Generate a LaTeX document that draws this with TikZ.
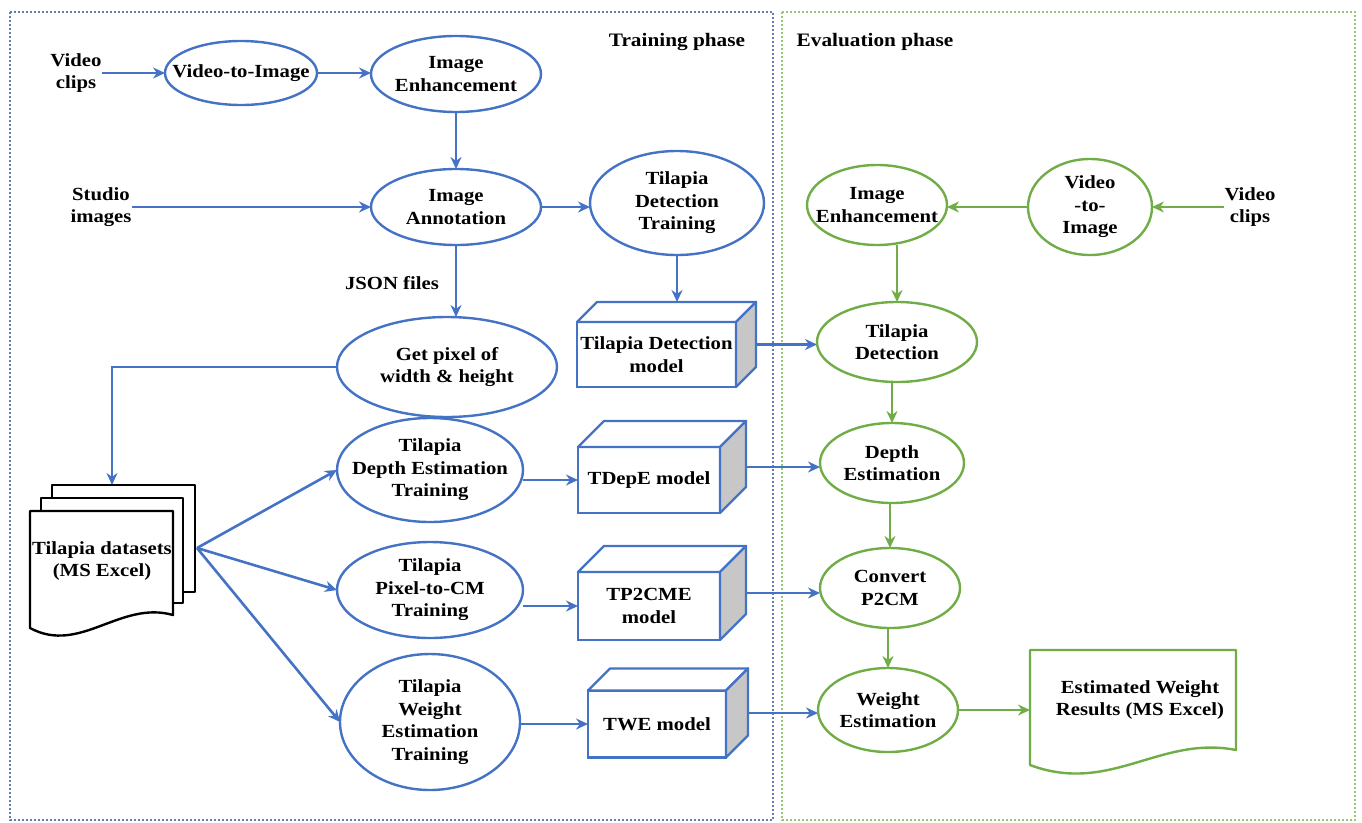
\documentclass[tikz,border=0pt]{standalone}
\usepackage{fontspec}
\setmainfont{Liberation Serif}[FakeStretch=1.12]
\usetikzlibrary{shapes.geometric,arrows.meta,calc,backgrounds}
\definecolor{bl}{RGB}{68,114,196}
\definecolor{gr}{RGB}{112,173,71}
\definecolor{bdot}{RGB}{100,125,185}
\definecolor{gdot}{RGB}{150,200,120}
\newcommand\mycube[7]{%
  \node[draw=bl, line width=2.4pt, fill=white, minimum width=#4pt, minimum height=#5pt, txt, outer sep=0pt] (#1) at (#2,#3) {#7};
  \draw[bl, line width=2.4pt, fill=white, line join=round] (#1.north west) -- ++(#6,-#6) -- ++(#4,0) -- (#1.north east) -- cycle;
  \draw[bl, line width=2.4pt, fill=black!22, line join=round] (#1.north east) -- ++(#6,-#6) -- ++(0,#5) -- (#1.south east) -- cycle;
  \coordinate (#1-side) at ($(#1.east)+(#6/2,-#6/2)$);
  \coordinate (#1-top) at ($(#1.north)+(#6,-#6)$);
}
\begin{document}
\begin{tikzpicture}[x=1pt,y=-1pt,
  txt/.style={font=\bfseries\fontsize{18.5}{22.5}\selectfont, align=center, inner sep=0pt},
  ttl/.style={font=\bfseries\fontsize{19}{22}\selectfont, inner sep=0pt},
  bell/.style={ellipse, draw=bl, line width=2.4pt, inner sep=0pt, outer sep=0pt},
  gell/.style={ellipse, draw=gr, line width=2.4pt, inner sep=0pt, outer sep=0pt},
  barr/.style={draw=bl, line width=2.6pt, -{Stealth[length=12pt,width=11pt]}},
  garr/.style={draw=gr, line width=2.6pt, -{Stealth[length=12pt,width=11pt]}},
  docline/.style={line width=2.4pt, line join=round}
]
\useasboundingbox (0,0) rectangle (1362,822);

% titles
\node[ttl] (ttrain) at (677,42) {Training phase};
\node[ttl] (teval) at (875,42) {Evaluation phase};

% ---------- training phase ----------
\node[txt] (vclip) at (76,73) {Video\\clips};
\node[bell, minimum width=152pt, minimum height=64pt] (v2i) at (241,73) {};
\node[txt] at (v2i) {Video-to-Image};
\node[bell, minimum width=170pt, minimum height=76pt] (ienh) at (456,74) {};
\node[txt] at (ienh) {Image\\Enhancement};
\node[bell, minimum width=170pt, minimum height=76pt] (iann) at (456,207) {};
\node[txt] at (iann) {Image\\Annotation};
\node[txt] (studio) at (101,207) {Studio\\images};
\node[bell, minimum width=174pt, minimum height=104pt] (tdt) at (677,203) {};
\node[txt] at (tdt) {Tilapia\\Detection\\Training};
\node[txt] (json) at (392,283) {JSON files};
\node[bell, minimum width=220pt, minimum height=100pt] (gp) at (447,367) {};
\node[txt] at (gp) {Get pixel of\\width \& height};

\node[bell, minimum width=186pt, minimum height=104pt] (dtrain) at (430,470) {};
\node[txt] at (dtrain) {Tilapia\\Depth Estimation\\Training};
\node[bell, minimum width=186pt, minimum height=96pt] (ptrain) at (430,590) {};
\node[txt] at (ptrain) {Tilapia\\Pixel-to-CM\\Training};
\node[bell, minimum width=180pt, minimum height=136pt] (wtrain) at (430,722) {};
\node[txt] at (wtrain) {Tilapia\\Weight\\Estimation\\Training};

\mycube{tdm}{656.5}{354.5}{159}{65}{20}{Tilapia Detection\\model}
\mycube{tdepe}{649}{480}{142}{66}{26}{TDepE model}
\mycube{tp2}{649}{606}{142}{68}{26}{TP2CME\\model}
\mycube{twe}{657}{724}{138}{67}{22}{TWE model}

% dataset stack
\draw[docline, fill=white] (52,485) rectangle (195,592);
\draw[docline, fill=white] (41,498) rectangle (183,603);
\draw[docline, fill=white] (30,511) -- (173,511) -- (173,615) .. controls (120,600) and (80,655) .. (30,628) -- cycle;
\node[txt] (ds) at (102,561) {Tilapia datasets\\(MS Excel)};
\coordinate (dstop) at (112,485);
\coordinate (dsout) at (197,548);

% ---------- evaluation phase ----------
\node[gell, minimum width=140pt, minimum height=80pt] (geh) at (877,205) {};
\node[txt] at (geh) {Image\\Enhancement};
\node[gell, minimum width=124pt, minimum height=96pt] (gv2i) at (1090,207) {};
\node[txt] at (gv2i) {Video\\-to-\\Image};
\node[txt] (gvclip) at (1250,207) {Video\\clips};
\node[gell, minimum width=160pt, minimum height=80pt] (gtdet) at (897,342) {};
\node[txt] at (gtdet) {Tilapia\\Detection};
\node[gell, minimum width=144pt, minimum height=80pt] (gdep) at (892,463) {};
\node[txt] at (gdep) {Depth\\Estimation};
\node[gell, minimum width=140pt, minimum height=80pt] (gconv) at (890,588) {};
\node[txt] at (gconv) {Convert\\P2CM};
\node[gell, minimum width=140pt, minimum height=84pt] (gwe) at (888,710) {};
\node[txt] at (gwe) {Weight\\Estimation};

\draw[gr, docline, fill=white] (1030,650) -- (1236,650) -- (1236,750) .. controls (1160,735) and (1110,795) .. (1030,765) -- cycle;
\node[txt] (ewr) at (1140,700) {Estimated Weight\\Results (MS Excel)};
\coordinate (ewl) at (1030,710);

% ---------- borders and connectors ----------
\begin{scope}[on background layer]
\draw[bdot, line width=2.6pt, dash pattern=on 2pt off 2pt] (10,12) rectangle (773,820);
\draw[gdot, line width=2.6pt, dash pattern=on 2pt off 2pt] (782,12) rectangle (1355,820);

\draw[barr] (vclip.east |- v2i) -- (v2i.west);
\draw[barr] (v2i.east) -- (ienh.west |- v2i.east);
\draw[barr] (ienh.south) -- (iann.north);
\draw[barr] (studio.east |- iann) -- (iann.west);
\draw[barr] (iann.east) -- (tdt.west |- iann);
\draw[barr] (iann.south) -- (gp.north -| iann);
\draw[barr] (tdt.south) -- (tdt.south |- tdm-top);
\draw[barr] (gp.west) -| (dstop);
\draw[barr] (dsout) -- (dtrain.west);
\draw[barr] (dsout) -- (ptrain.west);
\draw[barr] (dsout) -- (wtrain.west);
\draw[barr] (dtrain.east |- tdepe) -- (tdepe.west);
\draw[barr] (ptrain.east |- tp2) -- (tp2.west);
\draw[barr] (wtrain.east |- twe) -- (twe.west);
\draw[barr] (tdm-side) -- (gtdet.west |- tdm-side);
\draw[barr] (tdepe-side) -- (gdep.west |- tdepe-side);
\draw[barr] (tp2-side) -- (gconv.west |- tp2-side);
\draw[barr] (twe-side) -- (gwe.west |- twe-side);

\draw[garr] (gvclip.west |- gv2i) -- (gv2i.east);
\draw[garr] (gv2i.west) -- (geh.east |- gv2i.west);
\draw[garr] (geh.south -| gtdet.north) -- (gtdet.north);
\draw[garr] (gtdet.south -| gdep.north) -- (gdep.north);
\draw[garr] (gdep.south -| gconv.north) -- (gconv.north);
\draw[garr] (gconv.south -| gwe.north) -- (gwe.north);
\draw[garr] (gwe.east) -- (ewl);
\end{scope}
\end{tikzpicture}
\end{document}
